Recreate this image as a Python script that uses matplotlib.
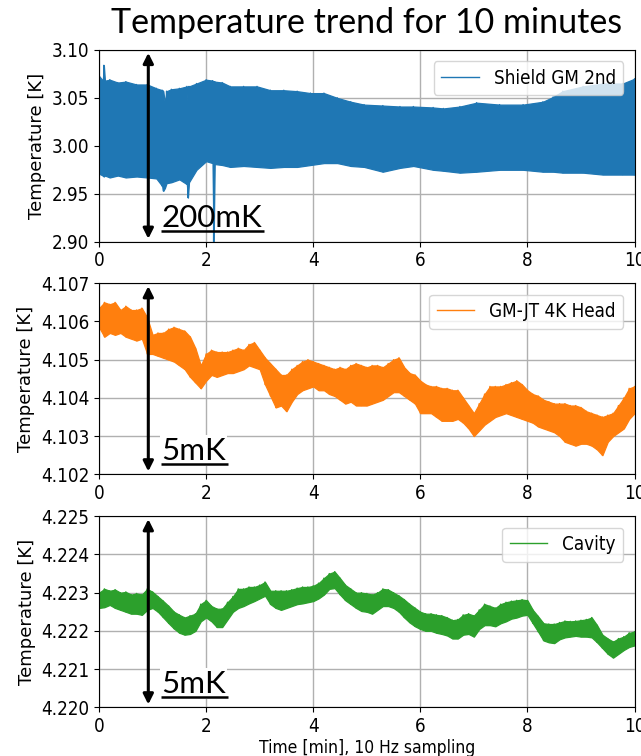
import numpy as np
import matplotlib.pyplot as plt
from matplotlib.ticker import FormatStrFormatter

plt.rcParams['font.family'] = 'DejaVu Sans'
plt.rcParams['font.stretch'] = 'condensed'

# --- Shield GM 2nd: upper / lower edge of the oscillation band [K]
t_shield = [0.00, 0.07, 0.09, 0.11, 0.20, 0.35, 0.50, 0.70, 0.90, 1.07,
            1.18, 1.20, 1.23, 1.26, 1.35, 1.50, 1.64, 1.66, 1.68, 1.82,
            2.00, 2.12, 2.14, 2.16, 2.30, 2.45, 2.70, 2.95, 3.20, 3.45,
            3.70, 3.95, 4.20, 4.45, 4.70, 4.95, 5.30, 5.62, 5.87, 6.24,
            6.43, 6.74, 7.05, 7.48, 7.92, 8.29, 8.48, 8.66, 9.04, 9.41,
            9.78, 10.00]
shield_hi = [3.073, 3.068, 3.084, 3.068, 3.069, 3.066, 3.067, 3.064, 3.064, 3.060,
             3.058, 3.057, 3.044, 3.057, 3.059, 3.060, 3.062, 3.036, 3.062, 3.065,
             3.069, 3.068, 3.067, 3.067, 3.066, 3.062, 3.062, 3.062, 3.058, 3.058,
             3.057, 3.055, 3.055, 3.050, 3.046, 3.043, 3.042, 3.041, 3.041, 3.040,
             3.039, 3.041, 3.045, 3.043, 3.043, 3.046, 3.051, 3.057, 3.062, 3.065,
             3.065, 3.070]
shield_lo = [2.971, 2.969, 2.968, 2.969, 2.967, 2.969, 2.967, 2.968, 2.967, 2.966,
             2.958, 2.953, 2.956, 2.961, 2.962, 2.965, 2.960, 2.946, 2.962, 2.975,
             2.984, 2.982, 2.900, 2.981, 2.980, 2.978, 2.979, 2.978, 2.977, 2.978,
             2.978, 2.980, 2.982, 2.982, 2.979, 2.978, 2.973, 2.977, 2.979, 2.975,
             2.974, 2.972, 2.973, 2.975, 2.975, 2.973, 2.973, 2.972, 2.972, 2.970,
             2.970, 2.970]

# --- GM-JT 4K Head and Cavity: local max / min every 0.1 min [mK above 4.100 / 4.220 K]
t_read = np.linspace(0, 10, 101)
head_hi = [6.35, 6.5, 6.45, 6.5, 6.3, 6.4, 6.3, 6.3, 6.35, 6.1,
           5.65, 5.7, 5.7, 5.8, 5.85, 5.8, 5.75, 5.6, 5.3, 4.85,
           5.15, 5.25, 5.2, 5.2, 5.2, 5.25, 5.3, 5.25, 5.4, 5.45,
           5.25, 5.05, 4.9, 4.75, 4.6, 4.6, 4.75, 4.85, 4.95, 5.0,
           4.95, 4.9, 4.85, 4.8, 4.75, 4.8, 4.75, 4.85, 4.9, 4.85,
           4.8, 4.85, 4.85, 4.8, 4.9, 5.0, 5.05, 4.8, 4.65, 4.6,
           4.45, 4.35, 4.3, 4.3, 4.25, 4.25, 4.2, 4.2, 4.0, 3.8,
           3.6, 3.85, 4.1, 4.3, 4.3, 4.3, 4.35, 4.4, 4.45, 4.35,
           4.2, 4.1, 4.05, 3.95, 3.9, 3.85, 3.85, 3.85, 3.8, 3.8,
           3.75, 3.65, 3.6, 3.55, 3.5, 3.55, 3.6, 3.8, 4.0, 4.25,
           4.3]
head_lo = [5.85, 5.6, 5.7, 5.65, 5.7, 5.6, 5.55, 5.5, 5.55, 5.15,
           5.15, 5.1, 5.05, 5.0, 4.95, 4.85, 4.75, 4.55, 4.4, 4.25,
           4.45, 4.6, 4.55, 4.6, 4.65, 4.65, 4.7, 4.75, 4.85, 4.8,
           4.75, 4.35, 4.05, 3.75, 3.8, 3.65, 3.9, 4.1, 4.2, 4.25,
           4.3, 4.2, 4.2, 4.1, 4.05, 3.95, 3.85, 3.9, 3.8, 3.8,
           3.8, 3.85, 3.9, 3.95, 4.05, 4.15, 4.15, 4.05, 3.95, 3.85,
           3.6, 3.6, 3.6, 3.5, 3.4, 3.4, 3.4, 3.45, 3.35, 3.2,
           3.0, 3.15, 3.3, 3.4, 3.5, 3.55, 3.6, 3.55, 3.5, 3.45,
           3.4, 3.35, 3.25, 3.2, 3.15, 3.1, 3.0, 2.85, 2.8, 2.75,
           2.8, 2.8, 2.75, 2.65, 2.5, 2.85, 3.0, 3.1, 3.2, 3.45,
           3.6]
cav_hi = [3.0, 3.1, 3.05, 3.08, 3.0, 3.02, 2.95, 2.98, 2.95, 3.1,
          3.02, 2.9, 2.78, 2.65, 2.5, 2.42, 2.35, 2.4, 2.45, 2.7,
          2.8, 2.65, 2.58, 2.58, 2.75, 2.9, 3.1, 3.1, 3.15, 3.15,
          3.2, 3.28, 3.05, 3.05, 3.05, 3.05, 3.08, 3.12, 3.15, 3.15,
          3.18, 3.25, 3.38, 3.5, 3.55, 3.38, 3.2, 3.1, 3.0, 3.0,
          2.98, 2.95, 3.0, 3.1, 3.08, 3.0, 2.92, 2.82, 2.7, 2.6,
          2.5, 2.45, 2.45, 2.42, 2.4, 2.35, 2.28, 2.3, 2.42, 2.45,
          2.4, 2.55, 2.7, 2.65, 2.6, 2.7, 2.75, 2.78, 2.8, 2.82,
          2.8, 2.55, 2.38, 2.2, 2.18, 2.18, 2.22, 2.26, 2.25, 2.26,
          2.28, 2.3, 2.35, 2.15, 1.9, 1.8, 1.72, 1.8, 1.85, 1.95,
          1.98]
cav_lo = [2.6, 2.62, 2.68, 2.6, 2.55, 2.5, 2.45, 2.45, 2.42, 2.55,
          2.6, 2.5, 2.35, 2.2, 2.06, 1.95, 1.9, 1.92, 2.0, 2.25,
          2.35, 2.25, 2.1, 2.1, 2.3, 2.5, 2.6, 2.65, 2.72, 2.78,
          2.85, 2.92, 2.7, 2.6, 2.55, 2.6, 2.65, 2.7, 2.72, 2.75,
          2.78, 2.85, 2.95, 3.1, 3.12, 2.95, 2.8, 2.7, 2.6, 2.52,
          2.5, 2.45, 2.55, 2.65, 2.65, 2.6, 2.5, 2.35, 2.22, 2.12,
          2.05, 2.0, 2.0, 1.95, 1.92, 1.88, 1.8, 1.8, 1.9, 1.92,
          1.85, 2.05, 2.15, 2.15, 2.12, 2.2, 2.25, 2.32, 2.35, 2.4,
          2.42, 2.2, 1.98, 1.75, 1.7, 1.68, 1.78, 1.83, 1.85, 1.87,
          1.85, 1.85, 1.83, 1.7, 1.55, 1.4, 1.3, 1.4, 1.5, 1.58,
          1.62]

head_hi = 4.100 + np.array(head_hi) * 1e-3
head_lo = 4.100 + np.array(head_lo) * 1e-3
cav_hi = 4.220 + np.array(cav_hi) * 1e-3
cav_lo = 4.220 + np.array(cav_lo) * 1e-3

labels = ['Shield GM 2nd', 'GM-JT 4K Head', 'Cavity']
colors = ['#1f77b4', '#ff7f0e', '#2ca02c']
ylims = [(2.90, 3.10), (4.102, 4.107), (4.220, 4.225)]
yfmt = ['%.2f', '%.3f', '%.3f']
span_text = ['200mK', '5mK', '5mK']


def zigzag(t, hi, lo):
    # alternate local max / min at each reading time
    return np.repeat(t, 2), np.column_stack([hi, lo]).ravel()


fig = plt.figure(figsize=(6.41, 7.56), dpi=100)
boxes = [[0.1545, 0.6803, 0.8354, 0.2536],
         [0.1545, 0.3726, 0.8354, 0.2527],
         [0.1545, 0.0644, 0.8354, 0.2527]]
axes = [fig.add_axes(b) for b in boxes]

series = [(np.array(t_shield), np.array(shield_hi), np.array(shield_lo)),
          (t_read, head_hi, head_lo),
          (t_read, cav_hi, cav_lo)]

for i, ax in enumerate(axes):
    t, hi, lo = series[i]
    x, y = zigzag(t, hi, lo)
    ax.fill_between(t, lo, hi, color=colors[i], lw=0.9, zorder=2)
    ax.plot(x, y, color=colors[i], lw=1.0, label=labels[i], zorder=2)

    ax.set_xlim(0, 10)
    ax.set_ylim(*ylims[i])
    ax.set_xticks([0, 2, 4, 6, 8, 10])
    ax.set_yticks(np.linspace(ylims[i][0], ylims[i][1], 5 if i == 0 else 6))
    ax.yaxis.set_major_formatter(FormatStrFormatter(yfmt[i]))
    ax.tick_params(labelsize=13.5)
    ax.grid(True, color='#b0b0b0', lw=1.0)
    ax.set_ylabel('Temperature [K]', fontsize=13, fontstretch='normal')
    ax.legend(loc='upper right', fontsize=13.5, borderaxespad=0.6)

    # scale arrow covering the full y range
    y0, y1 = ylims[i]
    d = (y1 - y0) * 0.015
    ax.annotate('', xy=(0.92, y0 + d), xytext=(0.92, y1 - d),
                arrowprops=dict(arrowstyle='<|-|>', color='black', lw=2.2,
                                mutation_scale=15, shrinkA=0, shrinkB=0),
                zorder=5)
    bbox = None if i == 0 else dict(facecolor='white', edgecolor='none', pad=1)
    ax.text(0.116, 0.077, span_text[i], transform=ax.transAxes, fontsize=22.5,
            family='Lato', fontstretch='normal', va='baseline', ha='left',
            bbox=bbox, zorder=4)
    ux1 = 0.308 if i == 0 else 0.240
    ax.plot([0.116, ux1], [0.055, 0.055], transform=ax.transAxes,
            color='black', lw=1.8, zorder=5, solid_capstyle='butt')

axes[0].set_title('Temperature trend for 10 minutes', fontsize=24.5,
                  family='Lato', fontstretch='normal', pad=12)
axes[2].set_xlabel('Time [min], 10 Hz sampling', fontsize=12.5, labelpad=2)

fig.savefig('out.png', dpi=100)
